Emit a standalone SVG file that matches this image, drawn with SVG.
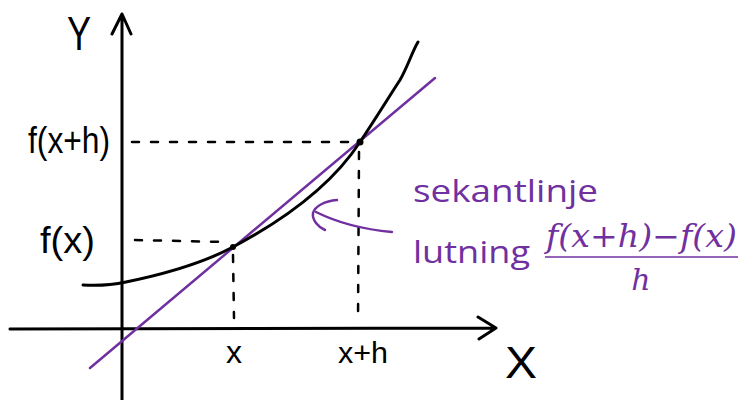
<svg xmlns="http://www.w3.org/2000/svg" width="738" height="400" viewBox="0 0 738 400">
<style>
.ink{fill:none;stroke:#000;stroke-width:3;stroke-linecap:round;stroke-linejoin:round}
.dash{fill:none;stroke:#000;stroke-width:2.5;stroke-linecap:round;stroke-dasharray:7 12}
.pur{fill:none;stroke:#7030A0;stroke-width:2.5;stroke-linecap:round;stroke-linejoin:round}
.hand{font-family:"Liberation Sans",sans-serif;fill:#000}
.lab{font-family:"Open Sans","Liberation Sans",sans-serif;fill:#7030A0}
.math{font-family:"DejaVu Serif","Liberation Serif",serif;font-style:italic;fill:#7030A0}
</style>
<rect width="738" height="400" fill="#fff"/>
<g id="axes">
<path class="ink" d="M122,400 L122,14 M112,34 L122,14 L131,34"/>
<path class="ink" d="M10,329 L496,328 M478,317 L496,328 L479,339"/>
</g>
<g id="connectors">
<path class="dash" d="M132,142 L354,142"/>
<path class="dash" d="M135,240 L228,242"/>
<path class="dash" d="M233,255 L234,318"/>
<path class="dash" d="M359,152 L358,322"/>
</g>
<g id="secant">
<path class="pur" d="M90,368 L435,78"/>
</g>
<g id="curve">
<path class="ink" d="M83,285 C100,286 112,285 126,282 C165,274 205,262 233,247 C280,222 330,188 360,142 C378,115 392,92 400,80 C408,66 412,52 418,42"/>
<circle cx="233" cy="247" r="3" fill="#000"/>
<circle cx="360" cy="142" r="3.5" fill="#000"/>
</g>
<g id="axis-labels">
<text class="hand" x="79" y="50" font-size="48" text-anchor="middle" textLength="24" lengthAdjust="spacingAndGlyphs">Y</text>
<text class="hand" x="28" y="153" font-size="36" textLength="82" lengthAdjust="spacingAndGlyphs">f(x+h)</text>
<text class="hand" x="40" y="253" font-size="36" textLength="55" lengthAdjust="spacingAndGlyphs">f(x)</text>
<text class="hand" x="234" y="363" font-size="32" text-anchor="middle">x</text>
<text class="hand" x="338" y="363" font-size="30" textLength="50" lengthAdjust="spacingAndGlyphs">x+h</text>
<text class="hand" x="521" y="378" font-size="44" text-anchor="middle" textLength="32" lengthAdjust="spacingAndGlyphs">X</text>
</g>
<g id="annotation">
<path class="pur" d="M392,232 C370,230 340,224 316,212"/>
<path class="pur" d="M337,200 C325,201 315,206 313,213 C312,220 318,227 325,230"/>
<text class="lab" x="413" y="202" font-size="31" textLength="185" lengthAdjust="spacingAndGlyphs">sekantlinje</text>
<text class="lab" x="413" y="263" font-size="31" textLength="117" lengthAdjust="spacingAndGlyphs">lutning</text>
<text class="math" x="546" y="247" font-size="31" textLength="191" lengthAdjust="spacingAndGlyphs">f(x+h)−f(x)</text>
<line x1="545" y1="257" x2="738" y2="257" stroke="#7030A0" stroke-width="1.5"/>
<text class="math" x="641" y="290" font-size="30" text-anchor="middle">h</text>
</g>
</svg>
